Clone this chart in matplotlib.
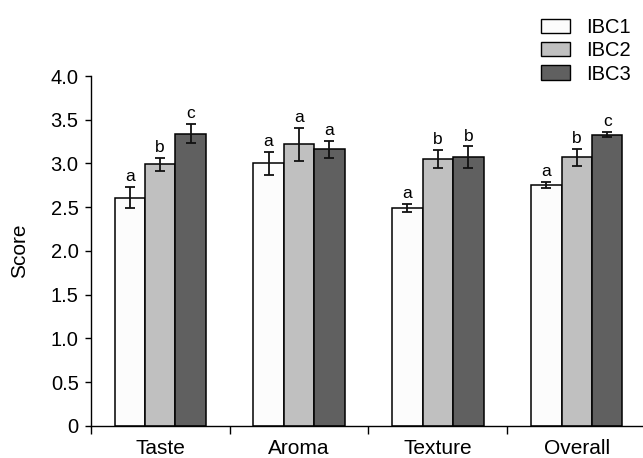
import matplotlib
matplotlib.use("Agg")
import matplotlib.pyplot as plt
import numpy as np

plt.rcParams['font.family'] = ['Liberation Sans', 'DejaVu Sans']

categories = ["Taste", "Aroma", "Texture", "Overall"]
series_names = ["IBC1", "IBC2", "IBC3"]
ibc1 = [2.61, 3.00, 2.49, 2.75]
ibc2 = [2.99, 3.22, 3.05, 3.07]
ibc3 = [3.34, 3.16, 3.07, 3.33]
err1 = [0.12, 0.13, 0.042, 0.034]
err2 = [0.072, 0.19, 0.105, 0.10]
err3 = [0.106, 0.093, 0.124, 0.027]
letters1 = ["a", "a", "a", "a"]
letters2 = ["b", "a", "b", "b"]
letters3 = ["c", "a", "b", "c"]
y_ticks = [0, 0.5, 1.0, 1.5, 2.0, 2.5, 3.0, 3.5, 4.0]
y_ticklabels = ["0", "0.5", "1.0", "1.5", "2.0", "2.5", "3.0", "3.5", "4.0"]

colors = ["#fcfcfc", "#c0c0c0", "#606060"]

fig = plt.figure(figsize=(6.43, 4.58), dpi=100)
ax = fig.add_axes([0.1411, 0.0705, 0.8574, 0.7635])

x = np.arange(len(categories))
w = 0.219
vals = [ibc1, ibc2, ibc3]
errs = [err1, err2, err3]
lets = [letters1, letters2, letters3]
for i in range(3):
    xpos = x + (i - 1) * w
    ax.bar(xpos, vals[i], width=w, color=colors[i], edgecolor="black",
           linewidth=1.1, label=series_names[i], zorder=2)
    ax.errorbar(xpos, vals[i], yerr=errs[i], fmt="none", ecolor="#111111",
                elinewidth=1.3, capsize=3.6, capthick=1.3, zorder=3)
    for xp, v, e, t in zip(xpos, vals[i], errs[i], lets[i]):
        ax.annotate(t, (xp, v + e), xytext=(0, 4.3), textcoords="offset points",
                    ha="center", va="baseline", fontsize=12.5)

ax.set_xlim(-0.5, 3.47)
ax.set_ylim(0, 4.0)
ax.set_yticks(y_ticks)
ax.set_yticklabels(y_ticklabels, fontsize=14.5)
ax.set_xticks(x)
ax.set_xticklabels(categories, fontsize=15)
ax.set_xticks(np.arange(len(categories)) - 0.5, minor=True)
ax.tick_params(axis="x", which="major", length=0, pad=9.5)
ax.tick_params(axis="x", which="minor", length=5.4, width=1.0, direction="out")
ax.tick_params(axis="y", length=4.2, width=1.0, direction="out", pad=4.5)
ax.set_ylabel("Score", fontsize=15)
ax.yaxis.set_label_coords(-0.112, 0.5)

for s in ["top", "right"]:
    ax.spines[s].set_visible(False)
for s in ["left", "bottom"]:
    ax.spines[s].set_linewidth(1.0)

leg = fig.legend(loc="upper right", bbox_to_anchor=(0.994, 0.979), frameon=False,
                 fontsize=14.5, handlelength=1.42, handleheight=0.7,
                 handletextpad=0.82, labelspacing=0.22, borderaxespad=0.0)
for p in leg.get_patches():
    p.set_edgecolor("black")
    p.set_linewidth(1.0)

fig.savefig("out.png", dpi=100)
